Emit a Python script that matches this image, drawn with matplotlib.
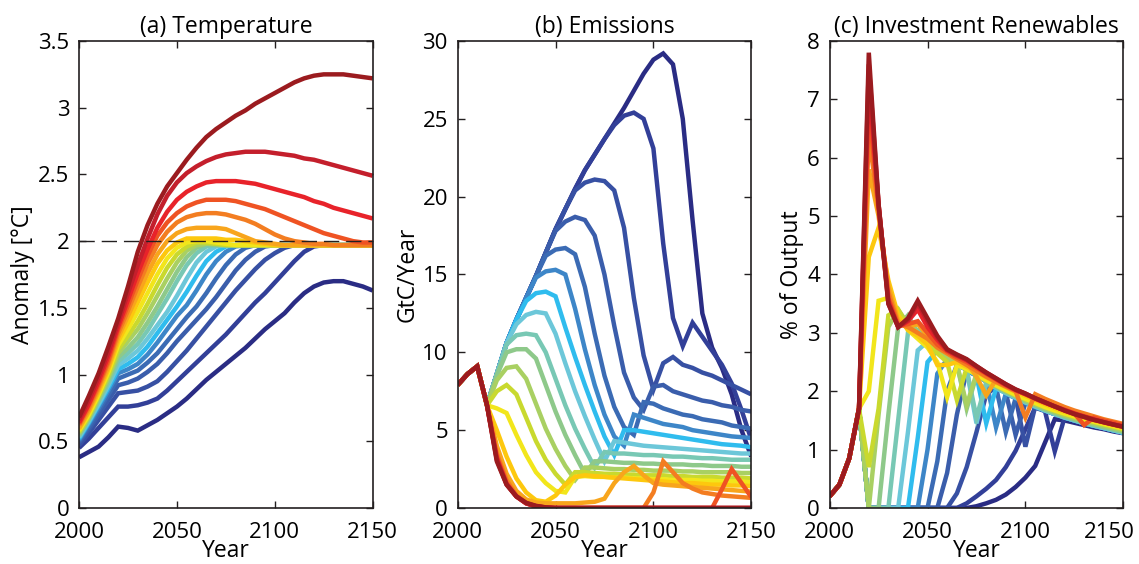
import matplotlib.pyplot as plt
from matplotlib.transforms import ScaledTranslation

years = list(range(2000, 2151, 5))

# (a) temperature anomaly [degC]; one row per scenario, dark blue -> dark red
temperature = [
    [0.38, 0.42, 0.46, 0.53, 0.61, 0.60, 0.58, 0.62, 0.66, 0.71, 0.76, 0.82, 0.89, 0.96, 1.02, 1.08, 1.14, 1.20, 1.27, 1.34, 1.40, 1.46, 1.54, 1.61, 1.66, 1.69, 1.70, 1.70, 1.68, 1.66, 1.63],
    [0.45, 0.52, 0.60, 0.68, 0.76, 0.76, 0.77, 0.79, 0.82, 0.88, 0.95, 1.02, 1.09, 1.16, 1.23, 1.30, 1.38, 1.46, 1.54, 1.61, 1.69, 1.77, 1.85, 1.92, 1.96, 1.97, 1.97, 1.97, 1.97, 1.97, 1.97],
    [0.47, 0.56, 0.66, 0.76, 0.86, 0.87, 0.88, 0.91, 0.95, 1.02, 1.10, 1.18, 1.27, 1.36, 1.45, 1.54, 1.63, 1.71, 1.79, 1.86, 1.91, 1.95, 1.97, 1.97, 1.97, 1.97, 1.97, 1.97, 1.97, 1.97, 1.97],
    [0.49, 0.59, 0.70, 0.81, 0.92, 0.94, 0.97, 1.02, 1.08, 1.16, 1.25, 1.33, 1.41, 1.49, 1.58, 1.68, 1.78, 1.86, 1.92, 1.96, 1.97, 1.97, 1.97, 1.97, 1.97, 1.97, 1.97, 1.97, 1.97, 1.97, 1.97],
    [0.50, 0.61, 0.73, 0.85, 0.97, 1.00, 1.03, 1.09, 1.16, 1.25, 1.34, 1.43, 1.51, 1.61, 1.72, 1.82, 1.90, 1.95, 1.97, 1.97, 1.97, 1.97, 1.97, 1.97, 1.97, 1.97, 1.97, 1.97, 1.97, 1.97, 1.97],
    [0.51, 0.63, 0.75, 0.88, 1.01, 1.04, 1.08, 1.15, 1.24, 1.34, 1.44, 1.52, 1.63, 1.75, 1.85, 1.92, 1.96, 1.97, 1.97, 1.97, 1.97, 1.97, 1.97, 1.97, 1.97, 1.97, 1.97, 1.97, 1.97, 1.97, 1.97],
    [0.52, 0.64, 0.77, 0.90, 1.04, 1.08, 1.13, 1.21, 1.31, 1.41, 1.51, 1.62, 1.74, 1.85, 1.92, 1.96, 1.97, 1.97, 1.97, 1.97, 1.97, 1.97, 1.97, 1.97, 1.97, 1.97, 1.97, 1.97, 1.97, 1.97, 1.97],
    [0.53, 0.65, 0.78, 0.92, 1.07, 1.12, 1.18, 1.27, 1.37, 1.47, 1.59, 1.72, 1.84, 1.92, 1.96, 1.97, 1.97, 1.97, 1.97, 1.97, 1.97, 1.97, 1.97, 1.97, 1.97, 1.97, 1.97, 1.97, 1.97, 1.97, 1.97],
    [0.54, 0.66, 0.80, 0.94, 1.10, 1.16, 1.23, 1.33, 1.45, 1.57, 1.70, 1.82, 1.91, 1.96, 1.97, 1.97, 1.97, 1.97, 1.97, 1.97, 1.97, 1.97, 1.97, 1.97, 1.97, 1.97, 1.97, 1.97, 1.97, 1.97, 1.97],
    [0.55, 0.67, 0.81, 0.96, 1.13, 1.20, 1.28, 1.39, 1.51, 1.64, 1.77, 1.88, 1.95, 1.98, 1.97, 1.97, 1.97, 1.97, 1.97, 1.97, 1.97, 1.97, 1.97, 1.97, 1.97, 1.97, 1.97, 1.97, 1.97, 1.97, 1.97],
    [0.56, 0.68, 0.83, 0.98, 1.16, 1.25, 1.34, 1.46, 1.59, 1.72, 1.84, 1.93, 1.97, 1.98, 1.98, 1.97, 1.97, 1.97, 1.97, 1.97, 1.97, 1.97, 1.97, 1.97, 1.97, 1.97, 1.97, 1.97, 1.97, 1.97, 1.97],
    [0.57, 0.69, 0.84, 1.00, 1.19, 1.29, 1.40, 1.53, 1.67, 1.80, 1.90, 1.96, 1.99, 1.99, 1.98, 1.97, 1.97, 1.97, 1.97, 1.97, 1.97, 1.97, 1.97, 1.97, 1.97, 1.97, 1.97, 1.97, 1.97, 1.97, 1.97],
    [0.58, 0.70, 0.85, 1.02, 1.22, 1.34, 1.47, 1.61, 1.75, 1.87, 1.95, 1.99, 2.00, 2.00, 1.99, 1.98, 1.97, 1.97, 1.97, 1.97, 1.97, 1.97, 1.97, 1.97, 1.97, 1.97, 1.97, 1.97, 1.97, 1.97, 1.97],
    [0.59, 0.72, 0.87, 1.04, 1.25, 1.39, 1.54, 1.69, 1.83, 1.93, 1.99, 2.02, 2.02, 2.02, 2.02, 2.01, 2.01, 2.00, 1.99, 1.98, 1.97, 1.97, 1.97, 1.97, 1.97, 1.97, 1.97, 1.97, 1.97, 1.97, 1.97],
    [0.60, 0.73, 0.89, 1.06, 1.28, 1.44, 1.60, 1.76, 1.90, 2.00, 2.06, 2.09, 2.10, 2.10, 2.10, 2.09, 2.06, 2.03, 2.00, 1.99, 1.98, 1.97, 1.97, 1.97, 1.97, 1.97, 1.97, 1.97, 1.97, 1.97, 1.97],
    [0.62, 0.75, 0.91, 1.09, 1.31, 1.48, 1.66, 1.83, 1.97, 2.07, 2.14, 2.18, 2.20, 2.21, 2.21, 2.20, 2.18, 2.16, 2.13, 2.09, 2.05, 2.02, 2.00, 1.99, 1.98, 1.98, 1.97, 1.97, 1.97, 1.97, 1.97],
    [0.63, 0.77, 0.93, 1.11, 1.34, 1.52, 1.71, 1.89, 2.04, 2.14, 2.21, 2.26, 2.29, 2.31, 2.31, 2.31, 2.30, 2.28, 2.26, 2.24, 2.21, 2.18, 2.15, 2.12, 2.09, 2.06, 2.04, 2.02, 2.00, 1.99, 1.99],
    [0.64, 0.78, 0.95, 1.14, 1.36, 1.56, 1.76, 1.94, 2.10, 2.22, 2.31, 2.37, 2.41, 2.44, 2.45, 2.45, 2.45, 2.44, 2.43, 2.41, 2.39, 2.37, 2.35, 2.33, 2.30, 2.28, 2.25, 2.23, 2.21, 2.19, 2.17],
    [0.66, 0.81, 0.98, 1.17, 1.39, 1.61, 1.82, 2.02, 2.20, 2.34, 2.44, 2.51, 2.56, 2.60, 2.63, 2.65, 2.66, 2.67, 2.67, 2.67, 2.66, 2.65, 2.64, 2.62, 2.61, 2.59, 2.57, 2.55, 2.53, 2.51, 2.49],
    [0.68, 0.84, 1.01, 1.21, 1.42, 1.66, 1.92, 2.12, 2.28, 2.41, 2.51, 2.61, 2.70, 2.78, 2.84, 2.89, 2.94, 2.98, 3.03, 3.07, 3.11, 3.15, 3.19, 3.22, 3.24, 3.25, 3.25, 3.25, 3.24, 3.23, 3.22],
]

# (b) emissions [GtC/year]
emissions = [
    [7.9, 8.6, 9.1, 6.6, 8.6, 10.6, 12.1, 13.5, 14.9, 16.4, 17.9, 19.2, 20.5, 21.7, 22.7, 23.7, 24.7, 25.7, 26.8, 27.9, 28.8, 29.2, 28.5, 25.0, 18.5, 12.5, 10.3, 9.0, 7.3, 5.0, 3.3],
    [7.9, 8.6, 9.1, 6.6, 8.6, 10.6, 12.1, 13.5, 14.9, 16.4, 17.9, 19.2, 20.5, 21.7, 22.7, 23.7, 24.6, 25.2, 25.4, 25.0, 23.1, 17.0, 12.2, 10.4, 11.9, 11.0, 10.1, 9.2, 8.0, 6.3, 4.4],
    [7.9, 8.6, 9.1, 6.6, 8.6, 10.6, 12.1, 13.5, 14.9, 16.4, 17.9, 19.2, 20.4, 20.9, 21.1, 21.0, 20.4, 18.0, 13.5, 9.8, 7.6, 9.3, 9.7, 9.2, 9.0, 8.7, 8.5, 8.2, 7.9, 7.6, 7.3],
    [7.9, 8.6, 9.1, 6.6, 8.6, 10.6, 12.1, 13.5, 14.9, 16.4, 17.8, 18.4, 18.7, 18.5, 17.5, 15.0, 11.7, 8.7, 7.1, 6.3, 7.8, 7.9, 7.5, 7.3, 7.1, 6.9, 6.8, 6.6, 6.5, 6.3, 6.2],
    [7.9, 8.6, 9.1, 6.6, 8.6, 10.6, 12.1, 13.5, 14.9, 16.2, 16.6, 16.7, 16.3, 14.2, 11.2, 8.5, 6.5, 5.2, 4.7, 6.8, 6.7, 6.4, 6.2, 6.0, 5.9, 5.7, 5.6, 5.5, 5.3, 5.2, 5.1],
    [7.9, 8.6, 9.1, 6.6, 8.6, 10.6, 12.1, 13.5, 14.8, 15.2, 15.3, 15.0, 12.8, 10.2, 7.9, 6.0, 4.6, 4.0, 6.0, 5.8, 5.6, 5.4, 5.3, 5.2, 5.0, 4.9, 4.8, 4.7, 4.6, 4.55, 4.5],
    [7.9, 8.6, 9.1, 6.6, 8.6, 10.6, 12.1, 13.3, 13.8, 13.9, 13.6, 11.6, 9.7, 7.9, 6.2, 4.6, 3.4, 5.0, 5.0, 4.9, 4.8, 4.7, 4.6, 4.5, 4.4, 4.3, 4.2, 4.1, 4.05, 4.0, 3.9],
    [7.9, 8.6, 9.1, 6.6, 8.6, 10.6, 11.8, 12.4, 12.6, 12.5, 11.2, 9.3, 7.5, 5.9, 4.4, 3.0, 4.3, 4.2, 4.1, 4.0, 3.95, 3.9, 3.85, 3.8, 3.75, 3.7, 3.65, 3.6, 3.55, 3.5, 3.5],
    [7.9, 8.6, 9.1, 6.6, 8.6, 10.5, 11.1, 11.2, 11.1, 10.0, 8.3, 6.6, 5.1, 3.8, 2.6, 3.6, 3.5, 3.5, 3.45, 3.4, 3.4, 3.35, 3.3, 3.3, 3.25, 3.2, 3.2, 3.15, 3.1, 3.1, 3.1],
    [7.9, 8.6, 9.1, 6.6, 8.5, 10.0, 10.2, 10.2, 9.6, 7.9, 6.2, 4.7, 3.4, 2.2, 3.0, 3.0, 2.95, 2.9, 2.9, 2.85, 2.85, 2.8, 2.8, 2.8, 2.75, 2.75, 2.7, 2.7, 2.7, 2.65, 2.65],
    [7.9, 8.6, 9.1, 6.6, 8.2, 9.0, 9.1, 8.3, 6.7, 5.1, 3.8, 2.7, 1.8, 2.6, 2.6, 2.55, 2.5, 2.5, 2.45, 2.45, 2.4, 2.4, 2.4, 2.35, 2.35, 2.3, 2.3, 2.3, 2.3, 2.25, 2.25],
    [7.9, 8.6, 9.1, 6.6, 7.5, 7.9, 7.3, 5.8, 4.3, 3.1, 2.2, 1.5, 2.3, 2.3, 2.25, 2.2, 2.2, 2.15, 2.15, 2.1, 2.1, 2.1, 2.05, 2.05, 2.0, 2.0, 2.0, 1.95, 1.95, 1.95, 1.9],
    [7.9, 8.6, 9.1, 6.6, 6.4, 6.1, 4.7, 3.4, 2.3, 1.6, 1.1, 1.0, 2.0, 2.05, 2.0, 2.0, 1.95, 1.95, 1.9, 1.9, 1.85, 1.85, 1.8, 1.8, 1.8, 1.75, 1.75, 1.7, 1.7, 1.7, 1.65],
    [7.9, 8.6, 9.1, 6.6, 5.0, 3.3, 1.9, 1.0, 0.5, 0.4, 0.8, 1.5, 2.0, 2.1, 2.05, 2.0, 1.95, 1.9, 1.85, 1.8, 1.75, 1.7, 1.65, 1.6, 1.6, 1.55, 1.5, 1.5, 1.45, 1.45, 1.4],
    [7.9, 8.6, 9.1, 6.6, 4.0, 2.2, 1.1, 0.55, 0.35, 0.3, 0.3, 0.3, 0.3, 0.35, 0.4, 0.6, 1.6, 2.3, 2.7, 2.1, 1.6, 1.5, 1.45, 1.4, 1.35, 1.3, 1.25, 1.2, 1.15, 1.1, 1.05],
    [7.9, 8.6, 9.1, 6.6, 3.5, 1.8, 0.8, 0.35, 0.12, 0.04, 0.0, 0.0, 0.0, 0.0, 0.0, 0.0, 0.0, 0.0, 0.0, 0.0, 1.0, 3.0, 2.3, 1.6, 1.25, 1.0, 0.9, 0.8, 0.75, 0.7, 0.65],
    [7.9, 8.6, 9.1, 6.6, 3.3, 1.6, 0.75, 0.3, 0.1, 0.03, 0.0, 0.0, 0.0, 0.0, 0.0, 0.0, 0.0, 0.0, 0.0, 0.0, 0.0, 0.0, 0.0, 0.0, 0.0, 0.0, 0.0, 1.2, 2.5, 1.6, 0.7],
    [7.9, 8.6, 9.1, 6.6, 3.2, 1.55, 0.75, 0.3, 0.1, 0.03, 0.0, 0.0, 0.0, 0.0, 0.0, 0.0, 0.0, 0.0, 0.0, 0.0, 0.0, 0.0, 0.0, 0.0, 0.0, 0.0, 0.0, 0.0, 0.0, 0.0, 0.0],
    [7.9, 8.6, 9.1, 6.6, 3.1, 1.5, 0.74, 0.3, 0.12, 0.03, 0.0, 0.0, 0.0, 0.0, 0.0, 0.0, 0.0, 0.0, 0.0, 0.0, 0.0, 0.0, 0.0, 0.0, 0.0, 0.0, 0.0, 0.0, 0.0, 0.0, 0.0],
    [7.9, 8.6, 9.1, 6.6, 3.0, 1.5, 0.74, 0.33, 0.14, 0.04, 0.0, 0.0, 0.0, 0.0, 0.0, 0.0, 0.0, 0.0, 0.0, 0.0, 0.0, 0.0, 0.0, 0.0, 0.0, 0.0, 0.0, 0.0, 0.0, 0.0, 0.0],
]

# (c) investment in renewables [% of output]
investment = [
    [0.2, 0.4, 0.85, 1.7, 0, 0, 0, 0, 0, 0, 0, 0, 0, 0, 0, 0.03, 0.08, 0.14, 0.23, 0.36, 0.52, 0.72, 1.12, 1.52, 1.5, 1.46, 1.42, 1.38, 1.35, 1.31, 1.28],
    [0.2, 0.4, 0.85, 1.7, 0, 0, 0, 0, 0, 0, 0, 0, 0, 0, 0.08, 0.2, 0.33, 0.48, 0.7, 0.98, 1.35, 1.72, 1.66, 0.97, 1.55, 1.5, 1.45, 1.41, 1.37, 1.33, 1.29],
    [0.2, 0.4, 0.85, 1.7, 0, 0, 0, 0, 0, 0, 0, 0, 0, 0.25, 0.7, 1.3, 1.95, 2.07, 1.98, 1.9, 1.05, 1.74, 1.67, 1.61, 1.55, 1.5, 1.45, 1.41, 1.37, 1.33, 1.29],
    [0.2, 0.4, 0.85, 1.7, 0, 0, 0, 0, 0, 0, 0, 0, 0.6, 1.6, 2.35, 2.27, 2.17, 2.07, 1.98, 1.25, 1.8, 1.73, 1.67, 1.61, 1.55, 1.5, 1.45, 1.41, 1.37, 1.33, 1.29],
    [0.2, 0.4, 0.85, 1.7, 0, 0, 0, 0, 0, 0, 0, 0.8, 2.0, 2.45, 2.37, 2.27, 2.17, 2.07, 1.3, 1.88, 1.8, 1.73, 1.67, 1.61, 1.55, 1.5, 1.45, 1.41, 1.37, 1.33, 1.29],
    [0.2, 0.4, 0.85, 1.7, 0, 0, 0, 0, 0, 0, 1.0, 2.3, 2.55, 2.47, 2.37, 2.27, 2.17, 1.38, 1.96, 1.88, 1.8, 1.73, 1.67, 1.61, 1.55, 1.5, 1.45, 1.41, 1.37, 1.33, 1.29],
    [0.2, 0.4, 0.85, 1.7, 0, 0, 0, 0, 0, 1.2, 2.5, 2.7, 2.58, 2.47, 2.37, 2.27, 1.45, 2.05, 1.97, 1.89, 1.81, 1.74, 1.67, 1.61, 1.55, 1.5, 1.45, 1.41, 1.37, 1.33, 1.29],
    [0.2, 0.4, 0.85, 1.7, 0, 0, 0, 0, 1.3, 2.7, 2.85, 2.7, 2.58, 2.47, 2.37, 1.45, 2.14, 2.06, 1.97, 1.89, 1.81, 1.74, 1.67, 1.61, 1.55, 1.5, 1.45, 1.41, 1.37, 1.33, 1.29],
    [0.2, 0.4, 0.85, 1.7, 0, 0, 0, 1.5, 3.0, 3.05, 2.85, 2.7, 2.58, 2.47, 2.37, 1.55, 2.15, 2.07, 1.98, 1.9, 1.82, 1.75, 1.68, 1.62, 1.56, 1.51, 1.46, 1.42, 1.38, 1.34, 1.3],
    [0.2, 0.4, 0.85, 1.7, 0, 0, 1.6, 3.1, 3.3, 3.0, 2.85, 2.7, 2.58, 2.47, 1.7, 2.27, 2.17, 2.08, 1.99, 1.91, 1.83, 1.76, 1.69, 1.63, 1.57, 1.52, 1.47, 1.43, 1.39, 1.35, 1.31],
    [0.2, 0.4, 0.85, 1.7, 0, 1.6, 3.1, 3.4, 3.15, 3.0, 2.85, 2.7, 2.58, 2.47, 1.76, 2.3, 2.2, 2.1, 2.01, 1.93, 1.85, 1.78, 1.71, 1.65, 1.59, 1.54, 1.49, 1.45, 1.41, 1.37, 1.33],
    [0.2, 0.4, 0.85, 1.7, 0.7, 1.7, 3.3, 3.4, 3.1, 2.95, 2.8, 2.65, 2.5, 1.85, 2.4, 2.3, 2.2, 2.11, 2.02, 1.94, 1.87, 1.8, 1.73, 1.67, 1.61, 1.56, 1.51, 1.47, 1.43, 1.39, 1.35],
    [0.2, 0.4, 0.85, 1.7, 2.0, 3.55, 3.6, 3.3, 3.05, 2.9, 2.75, 2.5, 1.9, 2.45, 2.38, 2.28, 2.19, 2.1, 2.02, 1.94, 1.87, 1.8, 1.73, 1.67, 1.62, 1.57, 1.52, 1.48, 1.44, 1.4, 1.36],
    [0.2, 0.4, 0.85, 1.7, 4.3, 4.8, 3.9, 3.3, 3.05, 2.95, 2.8, 2.45, 2.45, 2.5, 2.42, 2.33, 2.24, 2.15, 2.07, 1.99, 1.92, 1.85, 1.78, 1.71, 1.65, 1.6, 1.55, 1.5, 1.46, 1.42, 1.38],
    [0.2, 0.4, 0.85, 1.7, 5.8, 5.0, 3.8, 3.2, 3.1, 3.15, 2.95, 2.75, 2.65, 2.55, 2.5, 2.25, 1.93, 2.2, 2.1, 2.02, 1.95, 1.88, 1.81, 1.74, 1.68, 1.63, 1.58, 1.53, 1.49, 1.45, 1.41],
    [0.2, 0.4, 0.85, 1.7, 6.4, 5.1, 3.7, 3.15, 3.1, 3.0, 2.9, 2.75, 2.65, 2.55, 2.45, 2.35, 2.25, 2.16, 2.08, 2.0, 1.55, 1.95, 1.87, 1.8, 1.73, 1.67, 1.62, 1.57, 1.52, 1.48, 1.44],
    [0.2, 0.4, 0.85, 1.7, 6.9, 5.15, 3.6, 3.12, 3.15, 3.2, 3.0, 2.8, 2.68, 2.58, 2.5, 2.4, 2.3, 2.2, 2.1, 2.02, 1.95, 1.87, 1.8, 1.74, 1.68, 1.62, 1.42, 1.55, 1.5, 1.46, 1.42],
    [0.2, 0.4, 0.85, 1.7, 7.3, 5.2, 3.55, 3.1, 3.2, 3.4, 3.1, 2.88, 2.7, 2.61, 2.53, 2.42, 2.31, 2.21, 2.11, 2.02, 1.95, 1.88, 1.81, 1.74, 1.68, 1.62, 1.57, 1.52, 1.47, 1.43, 1.4],
    [0.2, 0.4, 0.85, 1.7, 7.6, 5.2, 3.5, 3.1, 3.22, 3.5, 3.2, 2.92, 2.71, 2.62, 2.54, 2.43, 2.32, 2.22, 2.12, 2.03, 1.96, 1.88, 1.81, 1.74, 1.67, 1.61, 1.56, 1.51, 1.47, 1.43, 1.39],
    [0.2, 0.4, 0.85, 1.7, 7.8, 5.2, 3.5, 3.1, 3.25, 3.55, 3.25, 2.95, 2.72, 2.63, 2.55, 2.43, 2.32, 2.22, 2.12, 2.03, 1.96, 1.88, 1.81, 1.74, 1.67, 1.61, 1.56, 1.51, 1.47, 1.43, 1.39],
]

titles = ['(a) Temperature', '(b) Emissions', '(c) Investment Renewables']
ylabels = ['Anomaly [°C]', 'GtC/Year', '% of Output']
ylims = [(0, 3.5), (0, 30), (0, 8)]
yticks = [[0, 0.5, 1, 1.5, 2, 2.5, 3, 3.5], [0, 5, 10, 15, 20, 25, 30], [0, 1, 2, 3, 4, 5, 6, 7, 8]]
ytick_labels = [['0', '0.5', '1', '1.5', '2', '2.5', '3', '3.5'], None, None]

# scenario colours, dark blue -> dark red
colors = ['#2a2c84', '#323f98', '#3750a3', '#3a5dab', '#3b6bb4', '#3d86c8',
          '#2fbcee', '#6cc7d9', '#78c8b4', '#8ec98a', '#a9d062', '#c9d92e',
          '#f2e61b', '#fdc80e', '#f8a51c', '#f37d21', '#ef5323', '#e8232a',
          '#c41f2c', '#9b1b1f']

plt.rcParams['font.family'] = ['Open Sans', 'DejaVu Sans']

fig = plt.figure(figsize=(11.39, 5.64), dpi=100)
lefts = [0.0694, 0.4018, 0.7284]
axes = [fig.add_axes([l, 0.0993, 0.2578, 0.828]) for l in lefts]

for ax, data, title, ylab, ylim, yt, ytl in zip(axes, [temperature, emissions, investment],
                                             titles, ylabels, ylims, yticks, ytick_labels):
    for row, c in zip(data, colors):
        ax.plot(years, row, color=c, lw=3.2, solid_joinstyle='miter', solid_capstyle='butt')
    ax.set_xlim(2000, 2150)
    ax.set_ylim(*ylim)
    ax.set_xticks([2000, 2050, 2100, 2150])
    ax.set_yticks(yt)
    if ytl is not None:
        ax.set_yticklabels(ytl)
    ax.set_title(title, fontsize=16.5, pad=6)
    ax.set_ylabel(ylab, fontsize=16.5, labelpad=2)
    ax.set_xlabel('Year', fontsize=16.5, labelpad=-2.5)
    ax.tick_params(direction='in', top=True, right=True, length=5, width=1,
                   labelsize=16, color='#231f20')
    ax.tick_params(axis='y', pad=7)
    ax.tick_params(axis='x', pad=10)
    for s in ax.spines.values():
        s.set_linewidth(1.2)
        s.set_color('#231f20')

axes[0].axhline(2, color='#231f20', lw=1, dashes=(11, 5), zorder=5)

# keep the last year label of the right panel inside the figure
fig.canvas.draw()
last = axes[2].get_xticklabels()[-1]
last.set_transform(last.get_transform() + ScaledTranslation(-0.14, 0, fig.dpi_scale_trans))

fig.savefig('out.png', dpi=100)
